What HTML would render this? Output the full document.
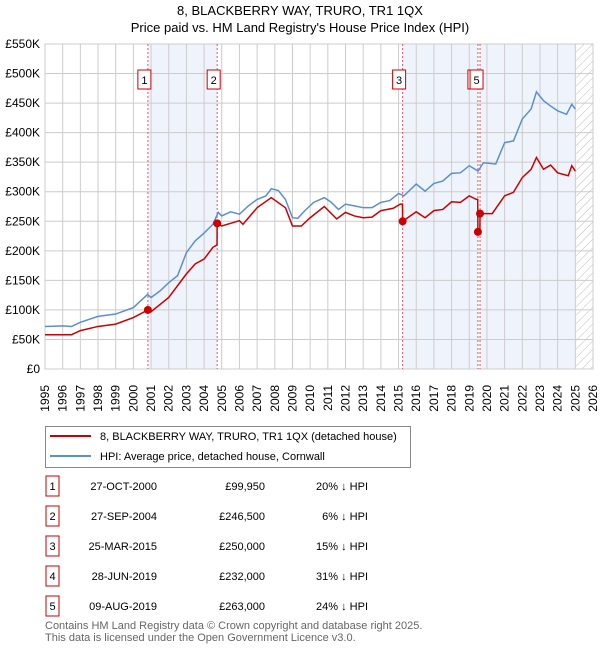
<!DOCTYPE html>
<html><head><meta charset="utf-8"><style>
body{margin:0;background:#fff;font-family:"Liberation Sans","DejaVu Sans",sans-serif;}
#wrap{position:relative;width:600px;height:650px;overflow:hidden}
</style></head><body><div id="wrap">
<svg id="svg" width="600" height="650" style="position:absolute;left:0;top:0"></svg>
</div>
<script>
const hpiYears=[1995,1996,1996.5,1997,1998,1999,2000,2000.5,2000.8,2001,2001.5,2002,2002.5,2003,2003.5,2004,2004.5,2004.8,2005,2005.5,2006,2006.5,2007,2007.5,2007.8,2008.2,2008.6,2009,2009.3,2009.7,2010.2,2010.8,2011.2,2011.6,2012,2012.5,2013,2013.5,2014,2014.5,2015,2015.3,2016,2016.5,2017,2017.5,2018,2018.5,2019,2019.5,2019.8,2020.5,2021,2021.5,2022,2022.5,2022.8,2023.2,2023.6,2024,2024.5,2024.8,2025];
const hpiValues=[72,73,72,79,89,93,104,118,126,121,132,146,158,197,217,230,245,265,259,266,262,276,287,293,305,302,287,256,255,268,282,290,282,270,279,276,273,273,282,285,297,293,313,301,314,318,331,332,344,335,349,347,383,386,423,440,469,454,445,437,431,448,440];
const priceYears=[1995,1996.5,1997,1998,1999,2000,2000.82,2001,2002,2003,2003.5,2004,2004.5,2004.73,2004.74,2005,2006,2006.2,2007,2007.8,2008.6,2009,2009.5,2010,2010.8,2011.5,2012,2012.5,2013,2013.5,2014,2014.7,2015.1,2015.22,2015.23,2016,2016.5,2017,2017.5,2018,2018.5,2019,2019.4,2019.48,2019.49,2019.6,2019.61,2020.3,2021,2021.5,2022,2022.5,2022.8,2023.2,2023.6,2024,2024.6,2024.8,2025];
const priceValues=[58,58,65,72,76,87,99.95,97,121,161,178,186,206,210,246.5,242,251,245,273,290,273,242,242,256,275,254,265,259,256,257,268,272,279,279,250,266,256,268,270,283,282,293,287,287,232,232,263,263,293,299,324,338,358,338,345,332,327,344,335];
const saleYears=[2000.82,2004.74,2015.23,2019.49,2019.61];
const saleValues=[99.95,246.5,250,232,263];
const saleLabels=["1","2","3","4","5"];
const yTicks=[0,50,100,150,200,250,300,350,400,450,500,550];
const xTicks=[];for(let y=1995;y<=2026;y++)xTicks.push(y);
const saleDates=["27-OCT-2000","27-SEP-2004","25-MAR-2015","28-JUN-2019","09-AUG-2019"];
const salePrices=["£99,950","£246,500","£250,000","£232,000","£263,000"];
const saleDiffs=["20% ↓ HPI","6% ↓ HPI","15% ↓ HPI","31% ↓ HPI","24% ↓ HPI"];

const L=45,R=593,T=44,B=369;
const X=y=>L+(y-1995)*(R-L)/31;
const Y=v=>B-v*(B-T)/550;
const svg=document.getElementById('svg');const NS='http://www.w3.org/2000/svg';
function mk(tag,attrs,parent){const e=document.createElementNS(NS,tag);for(const k in attrs)e.setAttribute(k,attrs[k]);(parent||svg).appendChild(e);return e;}
const defs=mk('defs',{});
const pat=mk('pattern',{id:'h',width:6,height:6,patternUnits:'userSpaceOnUse',patternTransform:'rotate(45)'},defs);
mk('line',{x1:0,y1:0,x2:0,y2:6,stroke:'#bbb','stroke-width':1},pat);
const bands=[[0,1],[2,3],[4,-1]];
bands.forEach((b,i)=>{const x1=X(saleYears[b[0]]);const x2=b[1]<0?X(2025.05):X(saleYears[b[1]]);
const r=mk('rect',{x:x1,y:T,width:x2-x1,height:B-T,fill:'#eff4fc'});

});
const hr=mk('rect',{x:X(2025.05),y:T,width:R-X(2025.05),height:B-T,fill:'url(#h)'});


xTicks.forEach(y=>{mk('line',{x1:X(y),x2:X(y),y1:T,y2:B,stroke:'#ccc','stroke-width':1});
const t=mk('text',{x:0,y:0,transform:`translate(${X(y)+4},${B+16}) rotate(-90)`,'font-size':12,'text-anchor':'end','font-family':'Liberation Sans, sans-serif'});t.textContent=y;

});
yTicks.forEach(v=>{mk('line',{x1:L,x2:R,y1:Y(v),y2:Y(v),stroke:'#ccc','stroke-width':1});
const t=mk('text',{x:L-5,y:Y(v)+4,'font-size':12,'text-anchor':'end','font-family':'Liberation Sans, sans-serif'});t.textContent=v===0?'£0':'£'+v+'K';

});
mk('rect',{x:L,y:T,width:R-L,height:B-T,fill:'none',stroke:'#ccc'});
saleYears.forEach(y=>{mk('line',{x1:X(y),x2:X(y),y1:T,y2:B,stroke:'#e55','stroke-width':1,'stroke-dasharray':'2,2'});});
const hp=mk('polyline',{points:hpiYears.map((y,i)=>X(y)+','+Y(hpiValues[i])).join(' '),fill:'none',stroke:'#5b8fd4','stroke-width':1.5});


const pp=mk('polyline',{points:priceYears.map((y,i)=>X(y)+','+Y(priceValues[i])).join(' '),fill:'none',stroke:'#cc0000','stroke-width':1.5});


saleYears.forEach((y,i)=>{const c=mk('circle',{cx:X(y),cy:Y(saleValues[i]),r:4,fill:'#cc0000'});


const bx=X(y)-10;
const g=mk('g',{});


mk('rect',{x:bx,y:70,width:13,height:19,fill:'#fff',stroke:'#cc0000'},g);
const t=mk('text',{x:bx+6.5,y:84,'font-size':11,'text-anchor':'middle','font-family':'Liberation Sans, sans-serif'},g);t.textContent=saleLabels[i];});
[['8, BLACKBERRY WAY, TRURO, TR1 1QX',15],["Price paid vs. HM Land Registry's House Price Index (HPI)",32]].forEach((a,i)=>{
const t=mk('text',{x:300,y:a[1],'font-size':13,'text-anchor':'middle','font-family':'Liberation Sans, sans-serif'});t.textContent=a[0];

});
const lg=mk('g',{});


mk('rect',{x:45.5,y:426.5,width:365,height:41,fill:'#fff',stroke:'#888'},lg);
mk('line',{x1:50,x2:91,y1:436,y2:436,stroke:'#cc0000','stroke-width':2},lg);
mk('line',{x1:50,x2:91,y1:456,y2:456,stroke:'#5b8fd4','stroke-width':2},lg);
const l1=mk('text',{x:100,y:440,'font-size':11,'font-family':'Liberation Sans, sans-serif'},lg);l1.textContent='8, BLACKBERRY WAY, TRURO, TR1 1QX (detached house)';
const l2=mk('text',{x:100,y:460,'font-size':11,'font-family':'Liberation Sans, sans-serif'},lg);l2.textContent='HPI: Average price, detached house, Cornwall';
saleLabels.forEach((s,i)=>{const y=483+i*30;const g=mk('g',{});


mk('rect',{x:46,y:y-7,width:13,height:20,fill:'#fff',stroke:'#cc0000'},g);
const f=(txt,x,anc)=>{const t=mk('text',{x:x,y:y+7,'font-size':11,'text-anchor':anc,'font-family':'Liberation Sans, sans-serif'},g);t.textContent=txt;};
f(s,52.5,'middle');f(saleDates[i],157,'end');f(salePrices[i],265,'end');f(saleDiffs[i],368,'end');});
[['Contains HM Land Registry data © Crown copyright and database right 2025.',629],['This data is licensed under the Open Government Licence v3.0.',641]].forEach(a=>{
const t=mk('text',{x:45,y:a[1],'font-size':11,fill:'#666','font-family':'Liberation Sans, sans-serif'});t.textContent=a[0];

});
</script></body></html>
